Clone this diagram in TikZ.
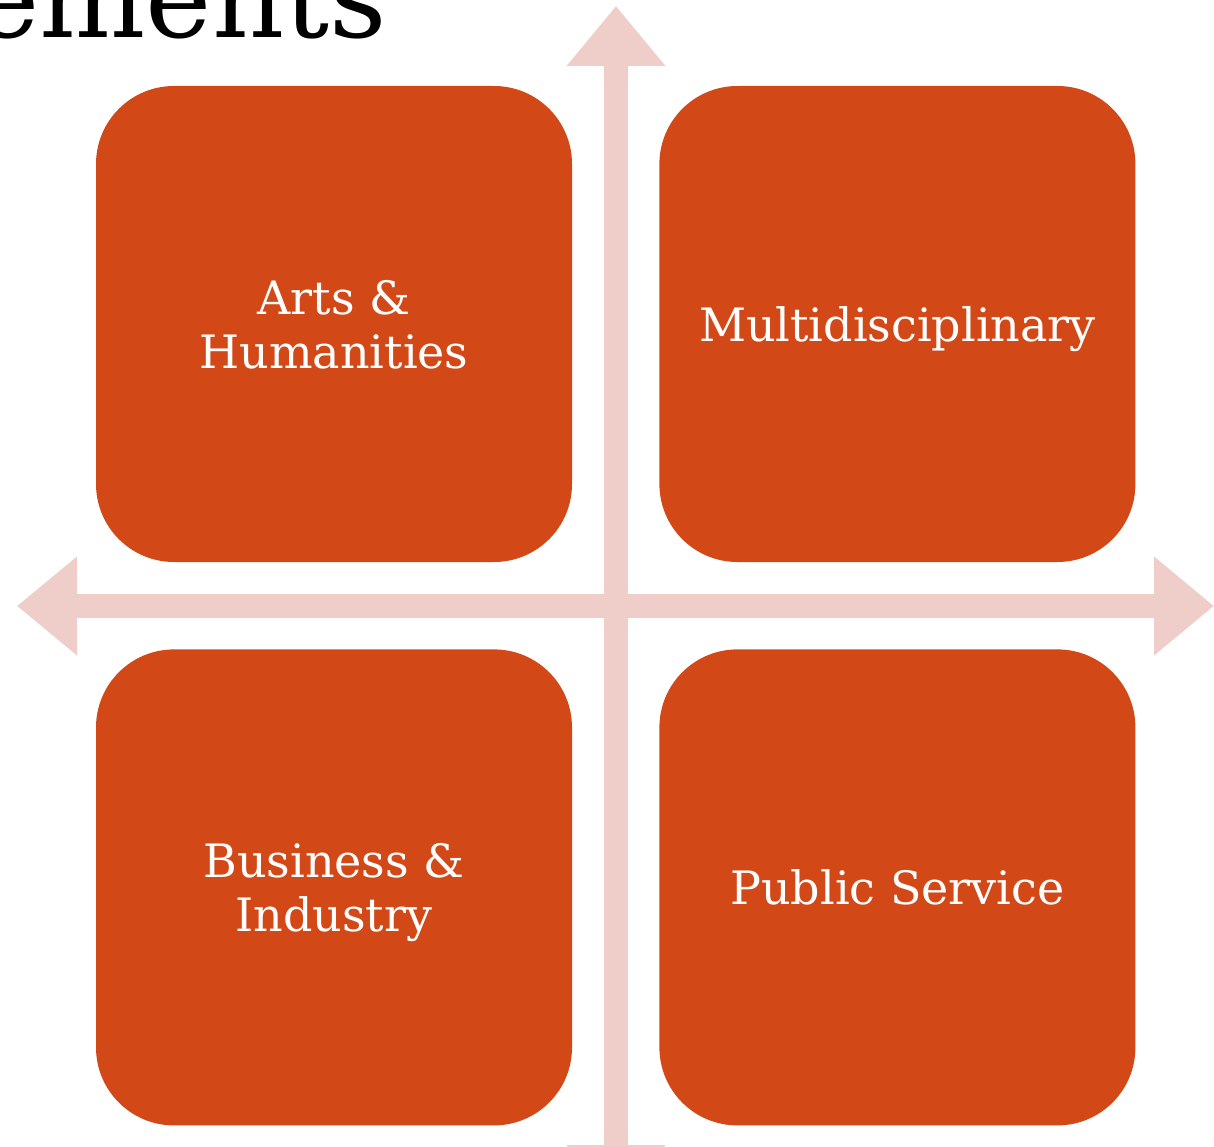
\documentclass[tikz,border=0pt]{standalone}
\usepackage{xcolor}
\usepackage{fontspec}
\setmainfont{DejaVu Serif}
\usepackage{tikz}
\usetikzlibrary{positioning,shapes,arrows.meta}

\definecolor{boxorange}{HTML}{D34817}
\definecolor{axispink}{HTML}{EFCDC9}

\begin{document}
\begin{tikzpicture}[
			x=1pt, y=-1pt,
			node distance=87pt,
			axis/.style = {draw=axispink, line width=24pt,
				{Triangle[length=60pt, width=95pt]}-{Triangle[length=60pt, width=95pt]}},
			every node/.style = {align=center, inner sep=0pt},
			field/.style = {shape=rectangle, fill=boxorange,
				rounded corners=78pt, minimum size=476pt,
				text depth=0pt, text=white,
				font=\fontsize{46}{54}\selectfont}]
			\useasboundingbox (0,0) rectangle (1214,1147);
			\clip (0,0) rectangle (1214,1147);
			% page title, cut off by the slide edge
			\node[anchor=base east, font=\fontsize{112}{120}\selectfont] (title) at (387,38) {ements};
			% the four fields
			\node[field] (arts) at (334,324) {Arts \&\\Humanities};
			\node[field, right=of arts] (multi) {Multidisciplinary};
			\node[field, below=of arts] (business) {Business \&\\Industry};
			\node[field, below=of multi] (public) {Public Service};
			% axes
			\coordinate (top) at (616,6);
			\coordinate (bottom) at (616,1205);
			\coordinate (left) at (17,606);
			\coordinate (right) at (1214,606);
			\draw[axis] (bottom) -- (top);
			\draw[axis] (left) -- (right);
			\end{tikzpicture}
\end{document}
